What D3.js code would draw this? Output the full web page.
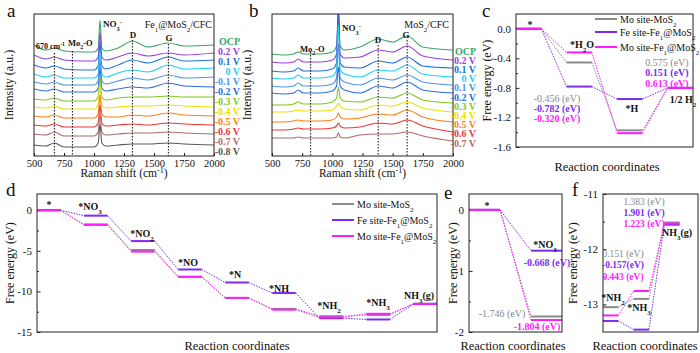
<!DOCTYPE html>
<html><head><meta charset="utf-8">
<script src="https://cdn.jsdelivr.net/npm/d3@7"></script>
<style>
body{margin:0;background:#fff}
svg{display:block}
svg text{font-family:"Liberation Serif","Times New Roman","DejaVu Serif",serif !important}
</style>
</head><body><div id="general"></div>
<script>
const W = 700, H = 353;

// ---------- Raman spectra (a, b) ----------
const potentialsA = ["OCP","0.2 V","0.1 V","0 V","-0.1 V","-0.2 V","-0.3 V","-0.4 V","-0.5 V","-0.6 V","-0.7 V","-0.8 V"];
const shiftsA = [500, 600, 670, 750, 900, 1000, 1035, 1050, 1065, 1100, 1200, 1320, 1450, 1620, 1750, 2000];
const spectraA = [
  [111,106,108,105,104,104,108,136,108,105,108,115,109,113,110,111],
  [101,97,99,96,95,95,99,124,99,96,99,103,100,103,101,103],
  [91,88,90,87,86,86,90,114,90,87,91,96,93,99,95,96],
  [82,79,81,78,78,78,82,104,82,79,83,86,84,91,87,88],
  [74,72,74,71,71,71,75,96,75,72,75,78,76,81,78,79],
  [67,65,67,64,64,64,68,88,68,65,67,69,68,73,70,69],
  [57,56,58,55,55,55,59,79,59,56,58,59,59,60,59,59],
  [49,48,50,47,47,47,51,70,51,48,49,50,50,51,50,49],
  [40,39,41,38,38,38,42,61,42,39,39,41,40,43,41,40],
  [31,30,32,29,29,29,33,51,33,30,31,32,31,33,32,31],
  [22,21,24,20,20,20,24,42,24,21,22,23,23,24,23,22],
  [11,10,13,9,9,9,13,32,13,10,11,12,12,13,12,11]
];
const potentialsB = potentialsA.slice(0, 11);
const shiftsB = [500, 600, 680, 715, 760, 900, 1000, 1035, 1050, 1065, 1100, 1230, 1380, 1500, 1620, 1750, 2000];
const spectraB = [
  [102,101,102,104,102,102,104,110,142,110,106,109,117,114,120,109,106],
  [94,93,94,97,94,94,96,102,146,102,98,99,106,104,110,100,96],
  [85,84,85,88,85,85,87,93,156,93,89,88,95,93,99,90,88],
  [78,77,78,81,78,78,80,86,131,86,82,79,86,85,91,82,79],
  [70,69,70,73,70,70,72,78,113,78,74,71,78,76,81,74,71],
  [63,62,63,66,63,63,65,70,89,70,66,63,70,68,74,66,63],
  [51,51,52,54,52,52,54,58,69,58,55,54,59,58,63,56,53],
  [44,44,45,46,45,45,46,50,53,50,47,46,51,50,54,48,44],
  [34,34,35,36,35,35,36,39,43,39,37,38,42,41,46,39,34],
  [26,26,27,28,27,27,28,30,33,30,28,29,33,32,36,30,24],
  [18,18,18,19,18,18,18,19,23,19,18,21,22,22,24,20,15]
];
const xTicksRaman = [500, 750, 1000, 1250, 1500, 1750, 2000];
const bandsA = [670, 820, 1320, 1620];
const bandsB = [820, 1380, 1620];

// ---------- free energy (c-f) ----------
const seriesNames = ["Mo site-MoS_{2}", "Fe site-Fe_{1}@MoS_{2}", "Mo site-Fe_{1}@MoS_{2}"];
const stepsC = ["*", "*H_{2}O", "*H", "1/2 H_{2}"];
const energyC = [[0, -0.456, -1.375, -0.8], [0, -0.782, -0.951, -0.8], [0, -0.320, -1.413, -0.8]];
const stepsD = ["*", "*NO_{3}", "*NO_{2}", "*NO", "*N", "*NH", "*NH_{2}", "*NH_{3}", "NH_{3}(g)"];
const energyD = [
  [0, -1.746, -4.9, -8.2, -10.8, -12.15, -13.05, -12.9, -11.517],
  [0, -0.668, -3.8, -7.3, -8.9, -10.2, -13.3, -13.457, -11.556],
  [0, -1.804, -5.1, -8.2, -10.8, -12.25, -13.2, -12.757, -11.534]
];
const stepsE = ["*", "*NO_{3}"];
const energyE = [[0, -1.746], [0, -0.668], [0, -1.804]];
const stepsF = ["*NH_{2}", "*NH_{3}", "NH_{3}(g)"];
const energyF = [[-13.05, -12.9, -11.517], [-13.3, -13.457, -11.556], [-13.2, -12.757, -11.534]];
const deltaC1 = ["-0.456 (eV)", "-0.782 (eV)", "-0.320 (eV)"];
const deltaC2 = ["0.575 (eV)", "0.151 (eV)", "0.613 (eV)"];
const deltaE = ["-1.746 (eV)", "-0.668 (eV)", "-1.804 (eV)"];
const deltaF1 = ["0.151 (eV)", "-0.157(eV)", "0.443 (eV)"];
const deltaF2 = ["1.383 (eV)", "1.901 (eV)", "1.223 (eV)"];

const potColors = ["#34a868","#9b3fe0","#2070e0","#1ad0f5","#4f94e8","#2d6ee0","#7ec820","#eee000","#ff7f0e","#f03434","#b06a6a","#5a5a5a"];
const serColors = ["#8a8a8a", "#7b2cf0", "#ff1cff"];
const FONT = "Liberation Serif";

const svg = d3.select("#general").append("svg").attr("width", W).attr("height", H)
  .attr("font-family", FONT);
svg.append("rect").attr("width", W).attr("height", H).attr("fill", "#fff");

function rich(t, s) {
  s.split(/(_\{[^}]*\}|\^\{[^}]*\})/).filter(p => p).forEach(p => {
    const ts = t.append("tspan");
    if (p[0] === "_") ts.attr("baseline-shift", "sub").attr("font-size", "70%").text(p.slice(2, -1));
    else if (p[0] === "^") ts.attr("baseline-shift", "super").attr("font-size", "70%").text(p.slice(2, -1));
    else ts.text(p);
  });
}

function label(x, y, s, o = {}) {
  const t = svg.append("text").attr("x", x).attr("y", y).attr("font-family", FONT)
    .attr("font-size", o.size || 10).attr("fill", o.color || "#111")
    .attr("font-weight", o.bold ? "bold" : "normal")
    .attr("text-anchor", o.anchor || "start");
  rich(t, s);
  return t;
}

function yTitle(x, y, s) {
  svg.append("text").attr("transform", `translate(${x},${y}) rotate(-90)`).attr("font-family", FONT)
    .attr("text-anchor", "middle").attr("font-size", 12).attr("fill", "#111").text(s);
}

function styleAxis(g, size) {
  g.attr("font-family", FONT);
  g.select(".domain").remove();
  g.selectAll("text").attr("font-family", FONT).attr("font-size", size).attr("fill", "#111");
  g.selectAll("line").attr("stroke", "#222");
}

function frame(x0, y0, x1, y1) {
  svg.append("rect").attr("x", x0).attr("y", y0).attr("width", x1 - x0).attr("height", y1 - y0)
    .attr("fill", "none").attr("stroke", "#222").attr("stroke-width", 1);
}

function spectraPanel(p) {
  const x = d3.scaleLinear().domain([500, 2000]).range([p.x0, p.x1]);
  const y = d3.scaleLinear().domain([0, 142]).range([156, 14]);
  const id = "clip" + p.id;
  svg.append("clipPath").attr("id", id).append("rect")
    .attr("x", p.x0).attr("y", 14).attr("width", p.x1 - p.x0).attr("height", 142);
  const line = d3.line().x((d, i) => x(p.shifts[i])).y(d => y(d)).curve(d3.curveMonotoneX);
  svg.append("g").attr("clip-path", `url(#${id})`).selectAll("path")
    .data(p.spectra).join("path")
    .attr("d", line).attr("fill", "none")
    .attr("stroke", (d, i) => potColors[i]).attr("stroke-width", 1.1);
  svg.append("g").selectAll("line").data(p.bands).join("line")
    .attr("x1", d => x(d)).attr("x2", d => x(d))
    .attr("y1", (d, i) => p.bandTop[i]).attr("y2", 156)
    .attr("stroke", "#111").attr("stroke-width", 1).attr("stroke-dasharray", "1.5,1.5");
  const ax = svg.append("g").attr("transform", "translate(0,156)")
    .call(d3.axisBottom(x).tickValues(xTicksRaman).tickFormat(d => d).tickSizeInner(-3).tickSizeOuter(0).tickPadding(4));
  styleAxis(ax, 10.5);
  frame(p.x0, 14, p.x1, 156);
  svg.append("g").selectAll("text").data(p.pots).join("text")
    .attr("x", p.labelX).attr("y", (d, i) => p.labelY0 + i * p.labelDy + 3.5)
    .attr("text-anchor", "end").attr("font-size", 10).attr("font-weight", "bold").attr("font-family", FONT)
    .attr("fill", (d, i) => potColors[i]).text(d => d);
  label((p.x0 + p.x1) / 2, 177, "Raman shift (cm^{-1})", { size: 11.5, anchor: "middle" });
  yTitle(p.x0 - 21, 85, "Intensity (a.u.)");
}

spectraPanel({ id: "a", x0: 34, x1: 214, shifts: shiftsA, spectra: spectraA, pots: potentialsA,
  bands: bandsA, bandTop: [53, 51, 40, 44], labelX: 240, labelY0: 41, labelDy: 10 });
spectraPanel({ id: "b", x0: 272, x1: 453, shifts: shiftsB, spectra: spectraB, pots: potentialsB,
  bands: bandsB, bandTop: [52, 45, 40], labelX: 476, labelY0: 51, labelDy: 9.2 });

label(36, 49, "670 cm^{-1}", { size: 8, bold: true });
label(68, 46, "Mo_{2}-O", { size: 8.5, bold: true });
label(103, 27, "NO_{3}^{-}", { size: 9, bold: true });
label(133, 38, "D", { size: 9, bold: true, anchor: "middle" });
label(169, 41, "G", { size: 9, bold: true, anchor: "middle" });
label(212, 28, "Fe_{1}@MoS_{2}/CFC", { size: 10, anchor: "end" });
label(300, 52, "Mo_{2}-O", { size: 8.5, bold: true });
label(342, 31, "NO_{3}^{-}", { size: 9, bold: true });
label(378, 43, "D", { size: 9, bold: true, anchor: "middle" });
label(406, 38, "G", { size: 9, bold: true, anchor: "middle" });
label(449, 28, "MoS_{2}/CFC", { size: 10, anchor: "end" });

// ---------- energy diagrams ----------
function energyPanel(p) {
  const x = d3.scaleLinear().domain([0, p.xMax]).range([p.x0, p.x1]);
  const y = d3.scaleLinear().domain(p.yDomain).range([p.y1, p.y0]);
  const len = 0.5;
  const minor = svg.append("g").attr("transform", `translate(${p.x0},0)`)
    .call(d3.axisLeft(y).tickValues(p.minor).tickFormat("").tickSizeInner(-2).tickSizeOuter(0));
  styleAxis(minor, 11);
  const ax = svg.append("g").attr("transform", `translate(${p.x0},0)`)
    .call(d3.axisLeft(y).tickValues(p.ticks).tickFormat(p.fmt).tickSizeInner(-3.5).tickSizeOuter(0).tickPadding(5));
  styleAxis(ax, 11);
  p.energy.forEach((vals, s) => {
    svg.append("g").selectAll("line").data(d3.pairs(vals.map((v, i) => [i, v]))).join("line")
      .attr("x1", d => x(d[0][0] + len)).attr("y1", d => y(d[0][1]))
      .attr("x2", d => x(d[1][0])).attr("y2", d => y(d[1][1]))
      .attr("stroke", serColors[s]).attr("stroke-width", 1).attr("stroke-dasharray", "1.5,1.2");
  });
  p.energy.forEach((vals, s) => {
    svg.append("g").selectAll("line").data(vals).join("line")
      .attr("x1", (d, i) => x(i)).attr("x2", (d, i) => x(i + len))
      .attr("y1", d => y(d)).attr("y2", d => y(d))
      .attr("stroke", serColors[s]).attr("stroke-width", 2);
  });
  frame(p.x0, p.y0, p.x1, p.y1);
  p.steps.forEach((s, i) => label(p.stepPos[i][0], p.stepPos[i][1], s, { size: 10, bold: true, anchor: "middle" }));
  label(p.rcX, p.rcY, "Reaction coordinates", { size: 12.5, anchor: "middle" });
  yTitle(p.titleX, (p.y0 + p.y1) / 2, "Free energy (eV)");
}

function legend(x, ys) {
  seriesNames.forEach((n, i) => {
    svg.append("line").attr("x1", x).attr("x2", x + 22).attr("y1", ys[i]).attr("y2", ys[i])
      .attr("stroke", serColors[i]).attr("stroke-width", 2);
    label(x + 25, ys[i] + 3.5, n, { size: 10 });
  });
}

function deltas(list, cx, ys, size) {
  list.forEach((s, i) => label(cx, ys[i] + 3.5, s, { size, bold: i > 0, color: serColors[i], anchor: "middle" }));
}

energyPanel({ x0: 516, x1: 693, y0: 14, y1: 147, xMax: 3.5, yDomain: [-1.6, 0.2],
  ticks: [0, -0.4, -0.8, -1.2, -1.6], minor: [-0.2, -0.6, -1.0, -1.4], fmt: d => d.toFixed(1),
  energy: energyC, steps: stepsC, stepPos: [[530, 28], [582, 48], [632, 112], [683, 103]],
  rcX: 607, rcY: 171, titleX: 491 });
legend(595, [19, 32, 47]);
deltas(deltaC1, 557, [98, 108, 118], 10);
deltas(deltaC2, 667, [62, 72, 83], 10);

energyPanel({ x0: 37, x1: 437, y0: 194, y1: 332, xMax: 8.5, yDomain: [-15, 2],
  ticks: [0, -5, -10, -15], minor: [-2.5, -7.5, -12.5], fmt: d => String(d),
  energy: energyD, steps: stepsD,
  stepPos: [[49, 208], [90, 210], [142, 237], [188, 266], [235, 278], [279, 292], [329, 309], [378, 306], [419, 299]],
  rcX: 237, rcY: 350, titleX: 14 });
legend(332, [204, 220, 236]);

energyPanel({ x0: 469, x1: 562, y0: 194, y1: 332, xMax: 1.5, yDomain: [-2, 0.26],
  ticks: [0, -1, -2], minor: [-0.5, -1.5], fmt: d => String(d),
  energy: energyE, steps: stepsE, stepPos: [[487, 209], [545, 248]],
  rcX: 513, rcY: 350, titleX: 457 });
label(502, 316.5, deltaE[0], { size: 10, color: serColors[0], anchor: "middle" });
label(547, 265.5, deltaE[1], { size: 10, bold: true, color: serColors[1], anchor: "middle" });
label(537, 329.5, deltaE[2], { size: 10, bold: true, color: serColors[2], anchor: "middle" });

energyPanel({ x0: 603, x1: 698, y0: 194, y1: 332, xMax: 3.1, yDomain: [-13.5, -11],
  ticks: [-11, -12, -13], minor: [-11.5, -12.5], fmt: d => String(d),
  energy: energyF, steps: stepsF, stepPos: [[613, 301], [639, 311], [677, 236]],
  rcX: 645, rcY: 350, titleX: 577 });
deltas(deltaF1, 623, [253, 264, 276], 9.5);
deltas(deltaF2, 644, [201, 212, 223], 9.5);

// panel letters
[["a", 7, 17], ["b", 249, 17], ["c", 482, 17], ["d", 6, 196], ["e", 444, 199], ["f", 572, 196]]
  .forEach(([s, x, y]) => label(x, y, s, { size: 19 }));
</script>
</body></html>
